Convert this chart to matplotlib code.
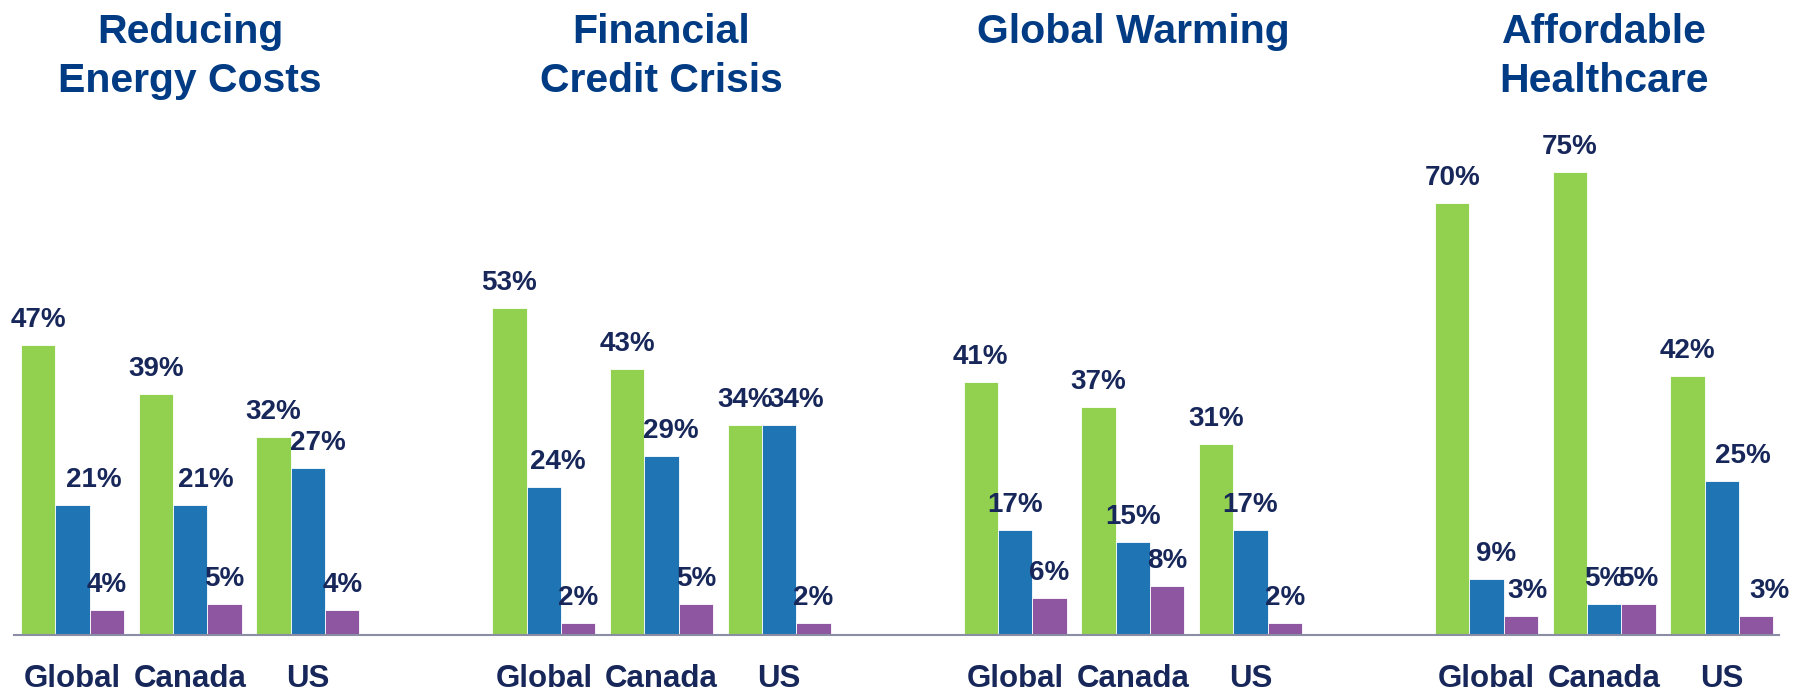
import matplotlib.pyplot as plt
import matplotlib.transforms as mtransforms

# survey results, percent
TOPICS = ["Reducing\nEnergy Costs", "Financial\nCredit Crisis", "Global Warming", "Affordable\nHealthcare"]
REGIONS = ["Global", "Canada", "US"]

# one list per topic, one row per region, columns = the three series
ENERGY = [[47, 21, 4], [39, 21, 5], [32, 27, 4]]
CREDIT = [[53, 24, 2], [43, 29, 5], [34, 34, 2]]
WARMING = [[41, 17, 6], [37, 15, 8], [31, 17, 2]]
HEALTH = [[70, 9, 3], [75, 5, 5], [42, 25, 3]]
VALUES = [ENERGY, CREDIT, WARMING, HEALTH]

SERIES_COLORS = ["#92D050", "#1F74B4", "#8E55A0"]
TITLE_COLOR = "#003B84"
LABEL_COLOR = "#17275A"
AXIS_COLOR = "#8A8DA3"

BAR_W = 1.0
GROUP_STEP = 3.42
PANEL_STEP = 13.7

# hand-placed label shifts (pixels) where labels would otherwise collide
NUDGE = {
    (0, 0, 1): 21, (0, 1, 1): 16, (0, 2, 1): 10,
    (1, 0, 1): 14, (1, 1, 1): 9, (1, 2, 1): 17,
    (3, 0, 1): 10, (3, 0, 2): 7, (3, 2, 1): 21, (3, 2, 2): 13,
}

W, H, DPI = 1802, 697, 100
PT = 72.0 / DPI

plt.rcParams["font.family"] = ["Liberation Sans", "DejaVu Sans"]
plt.rcParams["font.weight"] = "bold"

fig = plt.figure(figsize=(W / DPI, H / DPI), dpi=DPI)
ax = fig.add_axes([14 / W, 1 - 635 / H, 1765 / W, (635 - 141) / H])

tick_pos = []
tick_lab = []
for p, panel in enumerate(VALUES):
    for c, row in enumerate(panel):
        x0 = p * PANEL_STEP + c * GROUP_STEP
        for s, val in enumerate(row):
            x = x0 + s * BAR_W
            ax.bar(x, val, width=BAR_W, align="edge", color=SERIES_COLORS[s],
                   edgecolor="white", linewidth=0.6, zorder=2)
            dx = NUDGE.get((p, c, s), 0)
            ax.annotate(f"{val}%", (x + BAR_W / 2, val), xytext=(dx * PT, 18 * PT),
                        textcoords="offset points", ha="center", va="baseline",
                        fontsize=20, fontweight="bold", color=LABEL_COLOR)
        tick_pos.append(x0 + 1.5 * BAR_W)
        tick_lab.append(REGIONS[c])

ax.set_xlim(-0.2, 51.1)
ax.set_ylim(0, 80)
ax.set_xticks(tick_pos)
ax.set_xticklabels(tick_lab, fontsize=22.5, fontweight="bold", color=LABEL_COLOR)
ax.tick_params(axis="x", length=0, pad=21)
ax.set_yticks([])
for side in ["top", "left", "right"]:
    ax.spines[side].set_visible(False)
ax.spines["bottom"].set_color(AXIS_COLOR)
ax.spines["bottom"].set_linewidth(1.5)
ax.spines["bottom"].set_zorder(3)

# topic titles centred over each panel
trans = mtransforms.blended_transform_factory(ax.transData, fig.transFigure)
for p, title in enumerate(TOPICS):
    xc = p * PANEL_STEP + (2 * GROUP_STEP + 3 * BAR_W) / 2
    for i, line in enumerate(title.split("\n")):
        fig.text(xc, 1 - (43 + 49 * i) / H, line, transform=trans, ha="center",
                 va="baseline", fontsize=29.5, fontweight="bold", color=TITLE_COLOR)

fig.savefig("out.png", dpi=DPI)
